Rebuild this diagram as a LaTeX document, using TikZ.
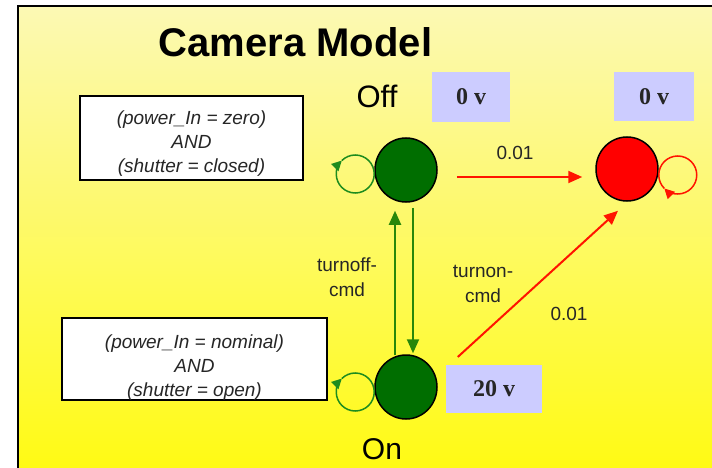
\documentclass[tikz,border=0pt]{standalone}
\usepackage{fontspec}
\setmainfont{Liberation Sans}
\newfontfamily\timesfont{Liberation Serif}
\usetikzlibrary{arrows.meta,shapes.geometric}
\definecolor{bgtop}{RGB}{252,249,180}
\definecolor{bgbot}{RGB}{255,250,20}
\definecolor{lav}{RGB}{204,204,255}
\definecolor{stgreen}{RGB}{0,110,0}
\definecolor{argreen}{RGB}{40,135,10}
\definecolor{lpgreen}{RGB}{30,140,30}
\definecolor{arred}{RGB}{255,20,0}
\begin{document}
\begin{tikzpicture}[x=1pt,y=1pt,
  state/.style={ellipse,draw=black,line width=1.5pt,minimum width=62pt,minimum height=64pt,inner sep=0pt},
  vbox/.style={fill=lav,font=\timesfont\bfseries\fontsize{24}{24}\selectfont,text=black!85,inner sep=0pt},
  condbox/.style={draw=black,line width=2pt,fill=white,inner sep=0pt},
  condtext/.style={font=\itshape\fontsize{19}{24}\selectfont,align=center,text=black!85},
  lbl/.style={font=\fontsize{19}{25}\selectfont,align=center,text=black!85},
  statelbl/.style={font=\fontsize{31}{31}\selectfont,anchor=base,inner sep=0pt},
  greenarr/.style={draw=argreen,line width=2pt,-{Triangle[length=14pt,width=12pt]}},
  redarr/.style={draw=arred,line width=2pt,-{Triangle[length=14pt,width=12pt]}},
  loopg/.style={draw=lpgreen,line width=1.5pt},
  loopr/.style={draw=arred,line width=1.5pt},
  looptip/.style={-{Triangle[length=10pt,width=10pt]}}
]
\useasboundingbox (0,0) rectangle (712,-468);
\fill[white] (0,0) rectangle (712,-468);
\shade[top color=bgtop,bottom color=bgbot] (18,-6) rectangle (712,-468);
\draw[line width=2pt] (18,-468) -- (18,-6) -- (712,-6);

\node[font=\bfseries\fontsize{40}{40}\selectfont,anchor=base] (title) at (295.5,-57) {Camera Model};
\node[statelbl] (offlbl) at (377,-108) {Off};
\node[statelbl,font=\fontsize{30}{30}\selectfont] (onlbl) at (382,-459) {On};

\node[vbox,minimum width=78pt,minimum height=50pt] (v1) at (471,-97) {0 v};
\node[vbox,minimum width=80pt,minimum height=49pt] (v2) at (654,-96.5) {0 v};
\node[vbox,minimum width=96pt,minimum height=48pt] (v3) at (494,-389) {20 v};

\node[condbox,minimum width=223pt,minimum height=84pt] (c1) at (191.5,-138) {};
\node[condtext] (t1) at (191.5,-144) {(power\_In = zero)\\AND\\(shutter = closed)};
\node[condbox,minimum width=265pt,minimum height=82pt] (c2) at (194.5,-359) {};
\node[condtext] (t2) at (194.5,-368) {(power\_In = nominal)\\AND\\(shutter = open)};

\node[state,fill=stgreen] (off) at (406,-170) {};
\node[state,fill=red] (bad) at (627,-169) {};
\node[state,fill=stgreen] (on) at (406,-387) {};

% self loops
\draw[loopg,looptip] ([yshift=-4pt]off.west) arc[start angle=0,end angle=-225,radius=19pt];
\draw[loopg] ([yshift=-4pt]off.west) arc[start angle=0,end angle=135,radius=19pt];
\draw[loopg,looptip] ([yshift=-5pt]on.west) arc[start angle=0,end angle=-225,radius=19pt];
\draw[loopg] ([yshift=-5pt]on.west) arc[start angle=0,end angle=135,radius=19pt];
\draw[loopr,looptip] ([yshift=-6pt]bad.east) arc[start angle=180,end angle=-135,radius=19pt];
\draw[loopr] ([yshift=-6pt]bad.east) arc[start angle=180,end angle=225,radius=19pt];

% transitions
\draw[redarr] ([xshift=19pt,yshift=-7pt]off.east) -- ([xshift=-13pt,yshift=-8pt]bad.west);
\draw[greenarr] ([xshift=-11pt,yshift=-1pt]on.north) -- ([xshift=-11pt,yshift=-8pt]off.south);
\draw[greenarr] ([xshift=7pt,yshift=-5pt]off.south) -- ([xshift=7pt,yshift=1pt]on.north);
\draw[redarr] ([xshift=20pt,yshift=30pt]on.east) -- ([xshift=-9pt,yshift=-9pt]bad.south);

\node[lbl] (p1) at (515,-153) {0.01};
\node[lbl] (p2) at (569,-314) {0.01};
\node[lbl] (toff) at (347,-277.5) {turnoff-\\cmd};
\node[lbl] (ton) at (483,-283.5) {turnon-\\cmd};
\end{tikzpicture}
\end{document}
